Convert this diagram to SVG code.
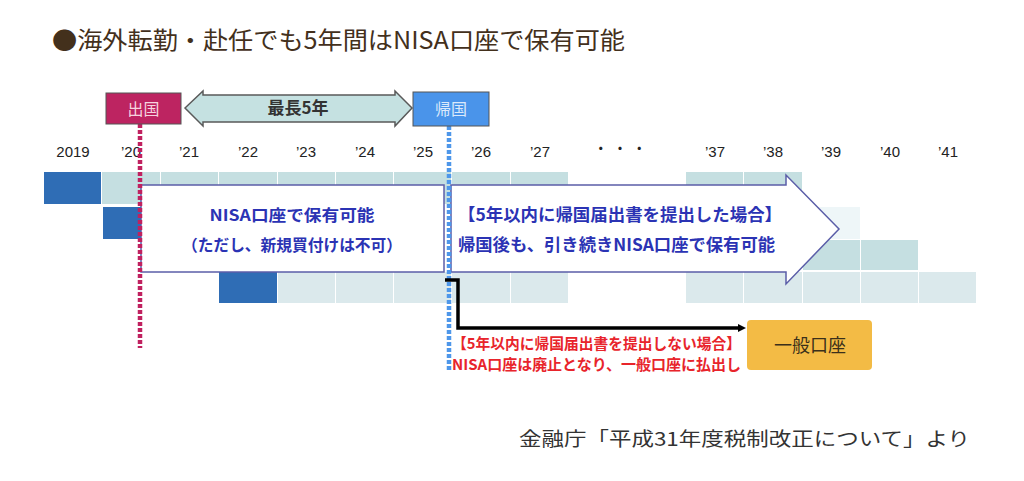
<svg xmlns="http://www.w3.org/2000/svg" width="1024" height="481" viewBox="0 0 1024 481">
<style>
.jp{font-family:"Noto Sans CJK JP","Liberation Sans",sans-serif}
.yr{font-family:"Liberation Sans","Noto Sans CJK JP",sans-serif;font-size:15px;fill:#222;text-anchor:middle}
.dk{fill:#2f6db5}
.l1{fill:#c5dfe1}
.l4{fill:#dbe9ec}
.bt{font-family:"Noto Sans CJK JP",sans-serif;font-weight:700;fill:#2b33b4}
.rt{font-family:"Noto Sans CJK JP",sans-serif;font-weight:700;fill:#e8242b;font-size:15px}
</style>
<defs>
<marker id="ah" markerWidth="8" markerHeight="8" refX="2" refY="4" orient="auto" markerUnits="userSpaceOnUse" viewBox="0 0 8 8">
<path d="M0,0 L8,4 L0,8 z" fill="#000"/>
</marker>
</defs>
<rect width="1024" height="481" fill="#fff"/>

<text class="jp" x="52" y="49" font-size="24" fill="#43301c" textLength="573" lengthAdjust="spacingAndGlyphs">●海外転勤・赴任でも5年間はNISA口座で保有可能</text>

<g id="years">
<text class="yr" x="73" y="157">2019</text>
<text class="yr" x="131" y="157">’20</text>
<text class="yr" x="189" y="157">’21</text>
<text class="yr" x="248" y="157">’22</text>
<text class="yr" x="306" y="157">’23</text>
<text class="yr" x="365" y="157">’24</text>
<text class="yr" x="423" y="157">’25</text>
<text class="yr" x="481" y="157">’26</text>
<text class="yr" x="540" y="157">’27</text>
<text class="yr" x="620" y="154">・ ・ ・</text>
<text class="yr" x="715" y="157">’37</text>
<text class="yr" x="773" y="157">’38</text>
<text class="yr" x="831" y="157">’39</text>
<text class="yr" x="890" y="157">’40</text>
<text class="yr" x="948" y="157">’41</text>
</g>

<g id="grid">
<rect class="dk" x="44" y="172" width="57" height="32"/>
<rect class="l1" x="102" y="172" width="58" height="32"/>
<rect class="l1" x="161" y="172" width="57" height="32"/>
<rect class="l1" x="219" y="172" width="58" height="32"/>
<rect class="l1" x="278" y="172" width="57" height="32"/>
<rect class="l1" x="336" y="172" width="57" height="32"/>
<rect class="l1" x="394" y="172" width="57" height="32"/>
<rect class="l1" x="452" y="172" width="58" height="32"/>
<rect class="l1" x="511" y="172" width="57" height="32"/>
<rect class="l1" x="686" y="172" width="57" height="32"/>
<rect class="l1" x="744" y="172" width="58" height="32"/>

<rect class="dk" x="103" y="207" width="57" height="32"/>
<rect x="803" y="207" width="57" height="32" fill="#eef6f8"/>

<rect class="l1" x="803" y="240" width="57" height="30"/>
<rect class="l1" x="861" y="240" width="57" height="30"/>

<rect class="dk" x="219" y="272" width="58" height="31"/>
<rect class="l4" x="278" y="272" width="57" height="31"/>
<rect class="l4" x="336" y="272" width="57" height="31"/>
<rect class="l4" x="394" y="272" width="57" height="31"/>
<rect class="l4" x="452" y="272" width="58" height="31"/>
<rect class="l4" x="511" y="272" width="57" height="31"/>
<rect class="l4" x="686" y="272" width="57" height="31"/>
<rect class="l4" x="744" y="272" width="58" height="31"/>
<rect class="l4" x="803" y="272" width="57" height="31"/>
<rect class="l4" x="861" y="272" width="57" height="31"/>
<rect class="l4" x="919" y="272" width="57" height="31"/>
</g>

<g id="box-abroad">
<rect x="141" y="185" width="303" height="87" fill="#fff" stroke="#5b5ea8" stroke-width="1.5"/>
<text class="bt" x="292" y="221" font-size="16" text-anchor="middle" textLength="165" lengthAdjust="spacingAndGlyphs">NISA口座で保有可能</text>
<text class="bt" x="292" y="251" font-size="16" text-anchor="middle" textLength="220" lengthAdjust="spacingAndGlyphs">（ただし、新規買付けは不可）</text>
</g>

<g id="arrow-return">
<path d="M451,185 H786 V175 L839,229 L786,284 V272 H451 Z" fill="#fff" stroke="#5b5ea8" stroke-width="1.5"/>
<text class="bt" x="458" y="221" font-size="17" textLength="324" lengthAdjust="spacingAndGlyphs">【5年以内に帰国届出書を提出した場合】</text>
<text class="bt" x="458" y="251" font-size="17" textLength="317" lengthAdjust="spacingAndGlyphs">帰国後も、引き続きNISA口座で保有可能</text>
</g>

<g id="connectors">
<line x1="140" y1="124" x2="140" y2="348" stroke="#c0215f" stroke-width="4.5" stroke-dasharray="4 2"/>
<line x1="449" y1="126" x2="449" y2="372" stroke="#4e97ea" stroke-width="4.5" stroke-dasharray="4 2"/>
<path d="M445,280 H458 V328 H740" fill="none" stroke="#000" stroke-width="3.5" marker-end="url(#ah)"/>
</g>

<g id="span-arrow">
<polygon points="185,108 203,91 203,95 395,95 395,91 412,108 395,126 395,122 203,122 203,126" fill="#c5e1e1" stroke="#5a5a5a" stroke-width="1.5"/>
<text class="jp" x="298" y="114" font-size="17" font-weight="700" fill="#333" text-anchor="middle">最長5年</text>
</g>

<g id="depart">
<rect x="106" y="93" width="75" height="31" fill="#bd2461" stroke="#555" stroke-width="1"/>
<text class="jp" x="143.5" y="115" font-size="16" fill="#f6d3df" text-anchor="middle">出国</text>
</g>

<g id="return">
<rect x="413" y="92" width="76" height="34" fill="#4a94ea" stroke="#555" stroke-width="1"/>
<text class="jp" x="451" y="115" font-size="16" fill="#dbe9fb" text-anchor="middle">帰国</text>
</g>

<g id="note-not-filed">
<text class="rt" x="452" y="349" textLength="289" lengthAdjust="spacingAndGlyphs">【5年以内に帰国届出書を提出しない場合】</text>
<text class="rt" x="452" y="370" textLength="289" lengthAdjust="spacingAndGlyphs">NISA口座は廃止となり、一般口座に払出し</text>
</g>

<g id="general-account">
<rect x="747" y="320" width="125" height="50" rx="4" fill="#f3bb45"/>
<text class="jp" x="810" y="352" font-size="18" fill="#3a2f1a" text-anchor="middle">一般口座</text>
</g>

<text class="jp" x="519" y="446" font-size="19" fill="#333" textLength="451" lengthAdjust="spacingAndGlyphs">金融庁「平成31年度税制改正について」より</text>
</svg>
